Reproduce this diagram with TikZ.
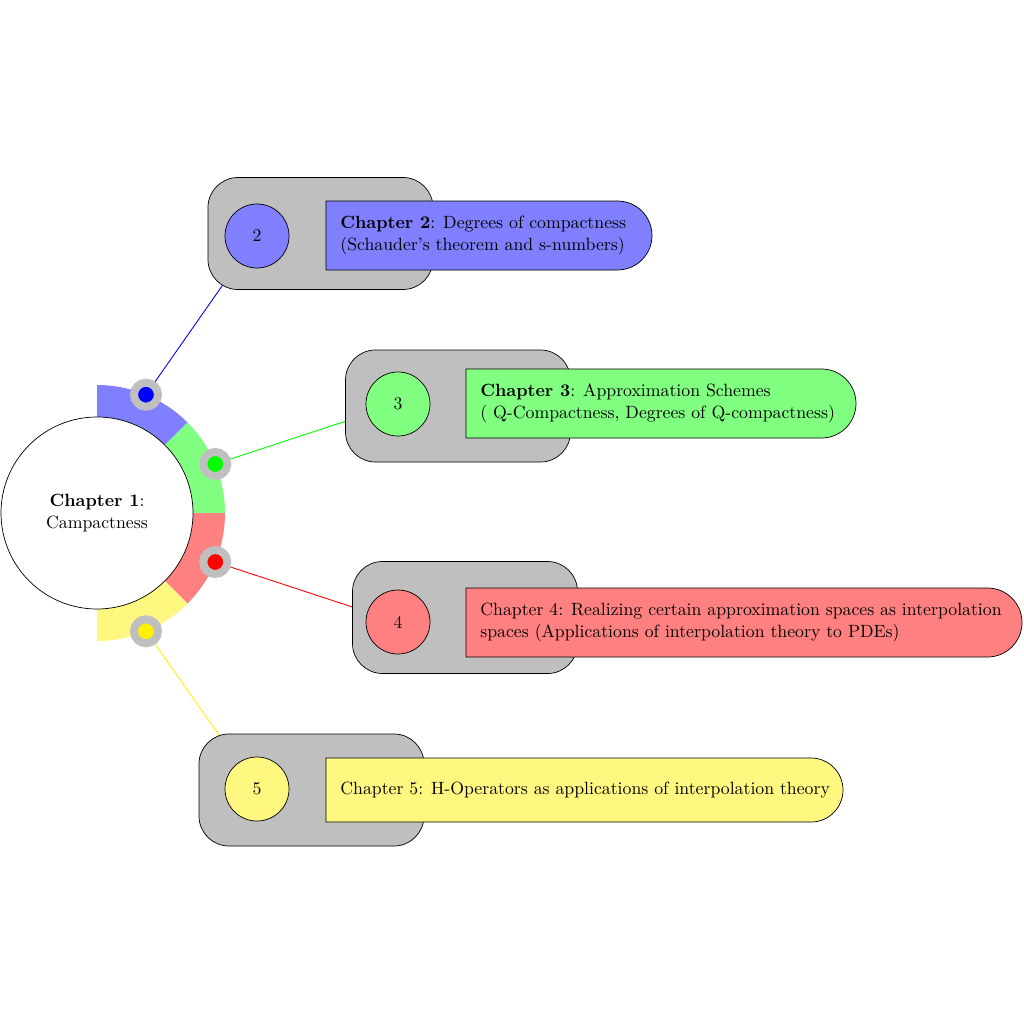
\documentclass[tikz,border=0pt]{standalone}
\usetikzlibrary{backgrounds}
\newdimen\pxu
\pxu=0.0198cm
\begin{document}
\begin{tikzpicture}[x=0.0198cm,y=-0.0198cm,
  graybox/.style={draw=black,fill=lightgray,rounded corners=30\pxu,minimum width=225\pxu,minimum height=112\pxu},
  numcirc/.style={draw=black,fill=#1,circle,minimum size=64\pxu,inner sep=0pt},
  dotmark/.style={circle,fill=#1,draw=lightgray,line width=8\pxu,minimum size=24\pxu,inner sep=0pt},
  labeltext/.style={anchor=west,align=left,inner sep=0pt},
  conn/.style={line width=0.5pt}]
\useasboundingbox (0,0) rectangle (1024,1024);
% ring
\begin{scope}[shift={(97,513)}]
\fill[blue!50] (90:128\pxu) arc[start angle=90,end angle=45,radius=128\pxu] -- (45:96\pxu) arc[start angle=45,end angle=90,radius=96\pxu] -- cycle;
\fill[green!50] (45:128\pxu) arc[start angle=45,end angle=0,radius=128\pxu] -- (0:96\pxu) arc[start angle=0,end angle=45,radius=96\pxu] -- cycle;
\fill[red!50] (0:128\pxu) arc[start angle=0,end angle=-45,radius=128\pxu] -- (-45:96\pxu) arc[start angle=-45,end angle=0,radius=96\pxu] -- cycle;
\fill[yellow!50] (-45:128\pxu) arc[start angle=-45,end angle=-90,radius=128\pxu] -- (-90:96\pxu) arc[start angle=-90,end angle=-45,radius=96\pxu] -- cycle;
\end{scope}
\node[circle,draw=black,fill=white,minimum size=192\pxu,inner sep=0pt,align=center] (c1) at (97,513) {\textbf{Chapter 1}:\\Campactness};
% dots
\node[dotmark=blue] (d2) at (146,394.7) {};
\node[dotmark=green] (d3) at (215.3,464) {};
\node[dotmark=red] (d4) at (215.3,562) {};
\node[dotmark=yellow] (d5) at (146,631.3) {};
% gray boxes
\node[graybox] (b2) at (320.5,233.5) {};
\node[graybox] (b3) at (458,406) {};
\node[graybox] (b4) at (465,617.5) {};
\node[graybox] (b5) at (311.5,790) {};
% number circles
\node[numcirc=blue!50] (n2) at (257,236) {2};
\node[numcirc=green!50] (n3) at (398,404) {3};
\node[numcirc=red!50] (n4) at (398,622) {4};
\node[numcirc=yellow!50] (n5) at (257,789) {5};
% label shapes
\draw[fill=blue!50] (326,201) -- (617.5,201) arc[start angle=90,end angle=-90,radius=34.5\pxu] -- (326,270) -- cycle;
\draw[fill=green!50] (466,369) -- (821.5,369) arc[start angle=90,end angle=-90,radius=34.5\pxu] -- (466,438) -- cycle;
\draw[fill=red!50] (466,588) -- (987.5,588) arc[start angle=90,end angle=-90,radius=34.5\pxu] -- (466,657) -- cycle;
\draw[fill=yellow!50] (326,758) -- (811,758) arc[start angle=90,end angle=-90,radius=32\pxu] -- (326,822) -- cycle;
% label texts
\node[labeltext] (t2) at (340,235.5) {\textbf{Chapter 2}: Degrees of compactness\\(Schauder's theorem and s-numbers)};
\node[labeltext] (t3) at (480,403.5) {\textbf{Chapter 3}: Approximation Schemes\\( Q-Compactness, Degrees of Q-compactness)};
\node[labeltext] (t4) at (480,622.5) {Chapter 4: Realizing certain approximation spaces as interpolation\\spaces (Applications of interpolation theory to PDEs)};
\node[labeltext] (t5) at (340,790) {Chapter 5: H-Operators as applications of interpolation theory};
% connectors
\begin{scope}[on background layer]
\draw[conn,blue] (d2.center) -- (n2.center);
\draw[conn,green] (d3.center) -- (n3.center);
\draw[conn,red] (d4.center) -- (n4.center);
\draw[conn,yellow] (d5.center) -- (n5.center);
\end{scope}
\end{tikzpicture}
\end{document}
